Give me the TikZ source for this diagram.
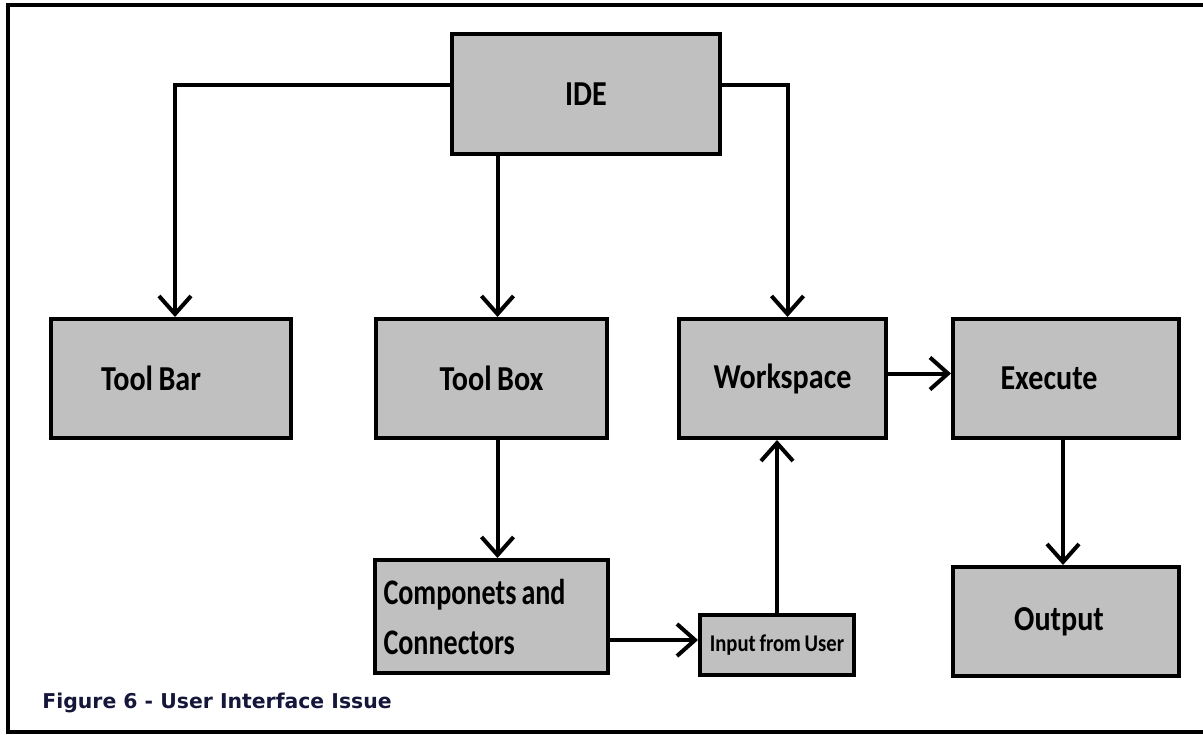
\documentclass[tikz,border=0pt]{standalone}
\usepackage{fontspec}
\setmainfont{Carlito}[FakeStretch=0.86,WordSpace=0.8]
\newfontfamily\capfont{DejaVu Sans}
\newfontfamily\narrowfont{Carlito}[FakeStretch=0.78,WordSpace=0.8]
\usetikzlibrary{arrows.meta,positioning,calc}
\definecolor{boxgray}{RGB}{192,192,192}
\definecolor{capnavy}{RGB}{22,22,58}
\tikzset{
  every picture/.style={font=\bfseries},
  block/.style={draw,line width=2pt,fill=boxgray,inner sep=4pt,font=\fontsize{17.5}{20}\bfseries\selectfont},
  flow/.style={line width=2pt,-{Straight Barb[length=9pt,width=16pt,line width=2pt]}},
  frame/.style={line width=2pt},
}
\begin{document}
\begin{tikzpicture}[x=0.5pt,y=-0.5pt]
  \useasboundingbox (0,0) rectangle (1203,734);
  % open frame: top, left and bottom only
  \draw[frame] (1203,5) -- (8,5) -- (8,732) -- (1203,732);

  \node[block,minimum width=134pt,minimum height=60pt] (ide) at (586,94) {IDE};
  \node[block,minimum width=120pt,minimum height=59.5pt] (bar) at (171,378.5) {Tool Bar\hspace*{20pt}};
  \node[block,minimum width=115.5pt,minimum height=59.5pt] (box) at (491.5,378.5) {Tool Box};
  \node[block,minimum width=103.5pt,minimum height=59.5pt] (work) at (782.5,378.5) {Workspace};
  \node[block,minimum width=113pt,minimum height=59.5pt] (exec) at (1066,378.5) {Execute\hspace*{17pt}};
  \node[block,minimum width=116.5pt,minimum height=56.5pt,text width=108pt,align=left,
        font=\narrowfont\fontsize{18}{25}\bfseries\selectfont] (comp) at (491.5,616.5)
        {\spaceskip=\fontdimen2\font Componets and\\Connectors};
  \node[block,minimum width=77pt,minimum height=30pt,inner sep=2pt,
        font=\fontsize{12}{13}\bfseries\selectfont] (user) at (777,645) {Input from User};
  \node[block,minimum width=113pt,minimum height=54.5pt] (out) at (1066,621.5) {Output\hspace*{7pt}};

  \draw[flow] ([yshift=4.5pt]ide.west) -| ([xshift=2pt]bar.north);
  \draw[flow] ([xshift=3pt]ide.south -| box.north) -- ([xshift=3pt]box.north);
  \draw[flow] ([yshift=4.5pt]ide.east) -| ([xshift=2.5pt]work.north);
  \draw[flow] ([yshift=2.5pt]work.east) -- ([yshift=2.5pt]exec.west);
  \draw[flow] ([xshift=3pt]box.south) -- ([xshift=3pt]comp.north);
  \draw[flow] ([yshift=2.5pt]comp.east |- user.west) -- ([yshift=2.5pt]user.west);
  \draw[flow] (user.north) -- (user.north |- work.south);
  \draw[flow] ([xshift=-1.5pt]exec.south) -- ([xshift=-1.5pt]out.north);

  \node[anchor=west,inner sep=0pt,text=capnavy,font=\capfont\bfseries\fontsize{10.2}{12}\selectfont] (cap) at (42,703) {Figure 6 - User Interface Issue};
\end{tikzpicture}
\end{document}
